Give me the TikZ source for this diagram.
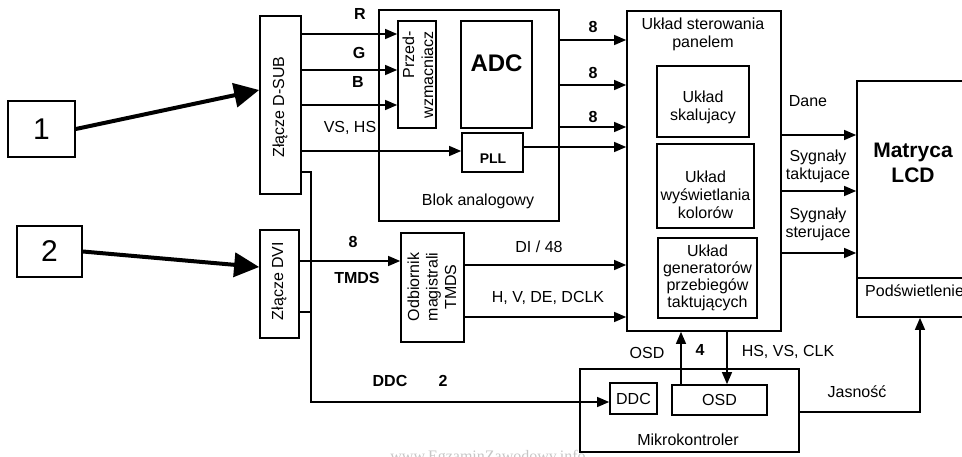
\documentclass[tikz,border=0pt]{standalone}
\usepackage{fontspec}
\setmainfont{Liberation Sans}
\newfontfamily\wmfont{Liberation Serif}
\usetikzlibrary{arrows.meta}
\begin{document}
\begin{tikzpicture}[x=1pt,y=-1pt,
  box/.style={draw, line width=1.7pt, inner sep=0pt, anchor=center, font=\fontsize{16}{19}\selectfont},
  lbl/.style={font=\fontsize{16}{18}\selectfont, inner sep=0pt, align=center},
  blbl/.style={font=\fontsize{16}{18}\selectfont\bfseries, inner sep=0pt, align=center},
  con/.style={line width=1.3pt, -{Triangle[length=12pt,width=10pt]}},
  plainline/.style={line width=1.3pt},
  big/.style={line width=4pt, -{Triangle[length=25pt,width=24pt]}},
  digit/.style={box, font=\fontsize{30}{30}\selectfont}
]
\useasboundingbox (0,0) rectangle (962,457);
\clip (0,0) rectangle (962,457);

% ---- boxes
\node[digit, minimum width=67pt, minimum height=56pt] (b1) at (41.5,129) {1};
\node[digit, minimum width=65pt, minimum height=51pt] (b2) at (49.5,251.5) {2};

\node[box, minimum width=41pt, minimum height=178pt] (dsub) at (280.5,105) {};
\node[lbl, rotate=90] (dsubt) at (280,107) {Złącze D-SUB};
\node[box, minimum width=39pt, minimum height=108pt] (dvi) at (279.5,284) {};
\node[lbl, rotate=90] (dvit) at (279,281) {Złącze DVI};

\node[box, minimum width=180pt, minimum height=211pt] (blok) at (469,115.5) {};
\node[lbl] (blokt) at (478,201) {Blok analogowy};
\node[box, minimum width=38pt, minimum height=107pt] (przed) at (417,74.5) {};
\node[lbl, rotate=90, align=right, anchor=east, font=\fontsize{16}{19}\selectfont] (przedt) at (418,31) {Przed-\\wzmacniacz};
\node[box, minimum width=71pt, minimum height=107pt] (adc) at (496.5,74.5) {};
\node[font=\fontsize{24}{24}\selectfont\bfseries, inner sep=0pt] (adct) at (496.5,63) {ADC};
\node[box, minimum width=61pt, minimum height=39pt] (pll) at (492.5,152.5) {};
\node[font=\fontsize{14}{14}\selectfont\bfseries, inner sep=0pt] (pllt) at (493,159) {PLL};

\node[box, minimum width=154pt, minimum height=320pt] (panel) at (704,171) {};
\node[lbl] (panelt) at (703,34) {Układ sterowania\\panelem};
\node[box, minimum width=92pt, minimum height=71pt] (skal) at (703,101.5) {};
\node[lbl] (skalt) at (703,107) {Układ\\skalujacy};
\node[box, minimum width=97pt, minimum height=84pt] (kolor) at (705.5,186) {};
\node[lbl] (kolort) at (705.5,195) {Układ\\wyświetlania\\kolorów};
\node[box, minimum width=99pt, minimum height=80pt] (gen) at (707.5,278) {};
\node[lbl, font=\fontsize{16}{17}\selectfont] (gent) at (707.5,278) {Układ\\generatorów\\przebiegów\\taktujących};

\node[box, minimum width=118pt, minimum height=236pt] (lcd) at (916,199) {};
\coordinate (ypod) at (0,278);
\draw[line width=1.7pt] (lcd.west |- ypod) -- (lcd.east |- ypod);
\node[font=\fontsize{21}{25}\selectfont\bfseries, align=center, inner sep=0pt] (lcdt) at (913,163) {Matryca\\LCD};
\node[lbl, anchor=west] (podt) at (865,291) {Podświetlenie};

\node[box, minimum width=63pt, minimum height=109pt] (odb) at (432.5,287.5) {};
\node[lbl, rotate=90, font=\fontsize{16}{18.5}\selectfont] (odbt) at (432,287) {Odbiornik\\magistrali\\TMDS};

\node[box, minimum width=219pt, minimum height=83pt] (mikro) at (689.5,410.5) {};
\node[lbl] (mikrot) at (688,440) {Mikrokontroler};
\node[box, minimum width=47pt, minimum height=31pt] (ddc) at (633.5,398.5) {DDC};
\node[box, minimum width=95pt, minimum height=30pt] (osd) at (719.5,400) {OSD};

% ---- helper levels
\coordinate (y90) at (0,90);
\coordinate (y267) at (0,267);
\coordinate (yR) at (0,34);
\coordinate (yG) at (0,70);
\coordinate (yB) at (0,105);
\coordinate (yV) at (0,151);
\coordinate (yo1) at (0,40);
\coordinate (yo2) at (0,85);
\coordinate (yo3) at (0,127);
\coordinate (yp) at (0,147);
\coordinate (j1) at (311,172);
\coordinate (j2) at (311,402);
\coordinate (j3) at (311,312);
\coordinate (yT) at (0,261);
\coordinate (yDI) at (0,265);
\coordinate (yH) at (0,317);
\coordinate (yDane) at (0,135);
\coordinate (yTakt) at (0,191);
\coordinate (ySter) at (0,253);
\coordinate (xosd) at (681,0);
\coordinate (xhs) at (727,0);
\coordinate (yJ) at (0,412);
\coordinate (xJ) at (920,0);

% ---- connectors
\draw[big] (b1.east) -- (dsub.west |- y90);
\draw[big] (b2.east) -- (dvi.west |- y267);

\draw[con] (dsub.east |- yR) -- (przed.west |- yR);
\draw[con] (dsub.east |- yG) -- (przed.west |- yG);
\draw[con] (dsub.east |- yB) -- (przed.west |- yB);
\draw[con] (dsub.east |- yV) -- (pll.west |- yV);

\draw[con] (blok.east |- yo1) -- (panel.west |- yo1);
\draw[con] (blok.east |- yo2) -- (panel.west |- yo2);
\draw[con] (blok.east |- yo3) -- (panel.west |- yo3);
\draw[con] (pll.east |- yp) -- (panel.west |- yp);

\draw[con] (dsub.east |- j1) -- (j1) -- (j2) -- (ddc.west |- j2);
\draw[plainline] (dvi.east |- j3) -- (j3);
\draw[con] (dvi.east |- yT) -- (odb.west |- yT);

\draw[con] (odb.east |- yDI) -- (panel.west |- yDI);
\draw[con] (odb.east |- yH) -- (panel.west |- yH);

\draw[con] (panel.east |- yDane) -- (lcd.west |- yDane);
\draw[con] (panel.east |- yTakt) -- (lcd.west |- yTakt);
\draw[con] (panel.east |- ySter) -- (lcd.west |- ySter);

\draw[con] (osd.north -| xosd) -- (panel.south -| xosd);
\draw[con] (panel.south -| xhs) -- (osd.north -| xhs);
\draw[con] (mikro.east |- yJ) -| (lcd.south -| xJ);

% ---- labels
\node[blbl] (lR) at (360,14) {R};
\node[blbl] (lG) at (359,53) {G};
\node[blbl] (lB) at (358,82) {B};
\node[lbl] (lVS) at (350,128) {VS, HS};
\node[blbl] (l81) at (593,27) {8};
\node[blbl] (l82) at (593,73) {8};
\node[blbl] (l83) at (593,117) {8};
\node[lbl] (lDane) at (808,101) {Dane};
\node[lbl] (lTakt) at (818,166) {Sygnały\\taktujace};
\node[lbl] (lSter) at (818,224) {Sygnały\\sterujace};
\node[blbl] (l8T) at (353,242) {8};
\node[blbl] (lTMDS) at (357,278) {TMDS};
\node[lbl] (lDI) at (539,247) {DI / 48};
\node[lbl] (lH) at (548,298) {H, V, DE, DCLK};
\node[blbl] (lDDC) at (390,381) {DDC};
\node[blbl] (l2) at (443,381) {2};
\node[lbl] (lOSD) at (647,353) {OSD};
\node[blbl] (l4) at (700,350) {4};
\node[lbl] (lHS) at (788,352) {HS, VS, CLK};
\node[lbl] (lJ) at (857,392) {Jasność};

\node[font=\wmfont\fontsize{16}{16}\selectfont, text=gray!45, anchor=north, inner sep=0pt] (wm) at (488,450) {www.EgzaminZawodowy.info};
\end{tikzpicture}
\end{document}
